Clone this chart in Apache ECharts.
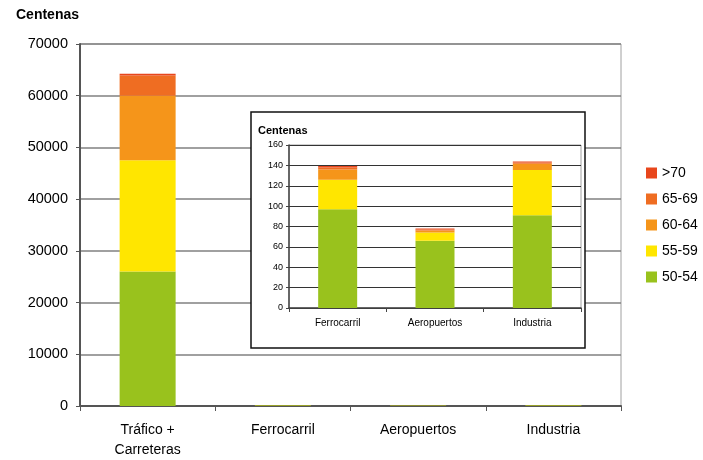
<!DOCTYPE html>
<html>
<head>
<meta charset="utf-8">
<script src="https://cdn.jsdelivr.net/npm/echarts@6/dist/echarts.min.js"></script>
<style>
  html, body { margin: 0; padding: 0; background: #fff; }
  #chart { width: 703px; height: 460px; }
</style>
</head>
<body>
<div id="chart"></div>
<script>
// categorias del grafico principal y del detalle
var mainCats = ['Tráfico +\nCarreteras', 'Ferrocarril', 'Aeropuertos', 'Industria'];
var insetCats = ['Ferrocarril', 'Aeropuertos', 'Industria'];
var groups = ['50-54', '55-59', '60-64', '65-69', '>70'];
var colors = ['#99c21d', '#ffe600', '#f5951a', '#ef6d22', '#e8461c'];

// valores (centenas) por rango de dB: Ferrocarril, Aeropuertos, Industria
var v50 = [97, 66, 91];
var v55 = [29, 8, 44.5];
var v60 = [10, 2, 6];
var v65 = [2, 1, 1.2];
var v70 = [1.5, 1, 1];

// Trafico + Carreteras, mismo orden que groups
var trafico = [26000, 21500, 12500, 3900, 350];

var insetVals = [v50, v55, v60, v65, v70];

var font = 'Liberation Sans, Arial, sans-serif';

var series = [];
groups.forEach(function (g, i) {
    series.push({
        name: g,
        type: 'bar',
        stack: 'main',
        xAxisIndex: 0,
        yAxisIndex: 0,
        barWidth: 56,
        itemStyle: { color: colors[i] },
        data: [trafico[i]].concat(insetVals[i])
    });
});
groups.forEach(function (g, i) {
    series.push({
        name: g,
        type: 'bar',
        stack: 'inset',
        xAxisIndex: 1,
        yAxisIndex: 1,
        barWidth: 39,
        z: 6,
        itemStyle: { color: colors[i] },
        data: insetVals[i]
    });
});

var chart = echarts.init(document.getElementById('chart'));
chart.setOption({
    animation: false,
    title: [
        { text: 'Centenas', left: 11, top: 3,
          textStyle: { fontFamily: font, fontSize: 14, fontWeight: 'bold', color: '#000' } },
        { text: 'Centenas', left: 253, top: 120, z: 6,
          textStyle: { fontFamily: font, fontSize: 11, fontWeight: 'bold', color: '#000' } }
    ],
    legend: {
        data: ['>70', '65-69', '60-64', '55-59', '50-54'],
        orient: 'vertical',
        left: 641,
        top: 161,
        icon: 'rect',
        itemWidth: 11,
        itemHeight: 11,
        itemGap: 12,
        textStyle: { fontFamily: font, fontSize: 14, color: '#000' }
    },
    graphic: [{
        type: 'rect',
        z: 3,
        shape: { x: 251, y: 112, width: 334, height: 236 },
        style: { fill: '#fff', stroke: '#111', lineWidth: 1.5 }
    }],
    grid: [
        { left: 80, right: 82, top: 44, bottom: 52, show: true,
          borderColor: '#a0a0a0', borderWidth: 1 },
        { left: 289, right: 122, top: 145, bottom: 152, show: true, z: 5,
          borderColor: '#a0a0a0', borderWidth: 1 }
    ],
    xAxis: [
        {
            type: 'category', gridIndex: 0, data: mainCats,
            axisLine: { lineStyle: { color: '#555', width: 2 } },
            axisTick: { show: true, length: 5, lineStyle: { color: '#555' } },
            axisLabel: { fontFamily: font, fontSize: 14, color: '#000', margin: 14, lineHeight: 20 }
        },
        {
            type: 'category', gridIndex: 1, data: insetCats, z: 6,
            axisLine: { lineStyle: { color: '#444', width: 1.5 } },
            axisTick: { show: true, length: 4, lineStyle: { color: '#444' } },
            axisLabel: { fontFamily: font, fontSize: 10, color: '#000', margin: 10 }
        }
    ],
    yAxis: [
        {
            type: 'value', gridIndex: 0, min: 0, max: 70000, interval: 10000,
            axisLine: { show: true, lineStyle: { color: '#555', width: 2 } },
            axisTick: { show: true, length: 4, lineStyle: { color: '#555' } },
            axisLabel: { fontFamily: font, fontSize: 14.5, color: '#000', margin: 12,
                         formatter: function (v) { return String(v); } },
            splitLine: { lineStyle: { color: '#808080', width: 1.5 } }
        },
        {
            type: 'value', gridIndex: 1, min: 0, max: 160, interval: 20, z: 6,
            axisLine: { show: true, lineStyle: { color: '#444', width: 1.5 } },
            axisTick: { show: true, length: 3, lineStyle: { color: '#444' } },
            axisLabel: { fontFamily: font, fontSize: 9, color: '#000', margin: 6 },
            splitLine: { lineStyle: { color: '#333', width: 1 } }
        }
    ],
    series: series
});
</script>
</body>
</html>
